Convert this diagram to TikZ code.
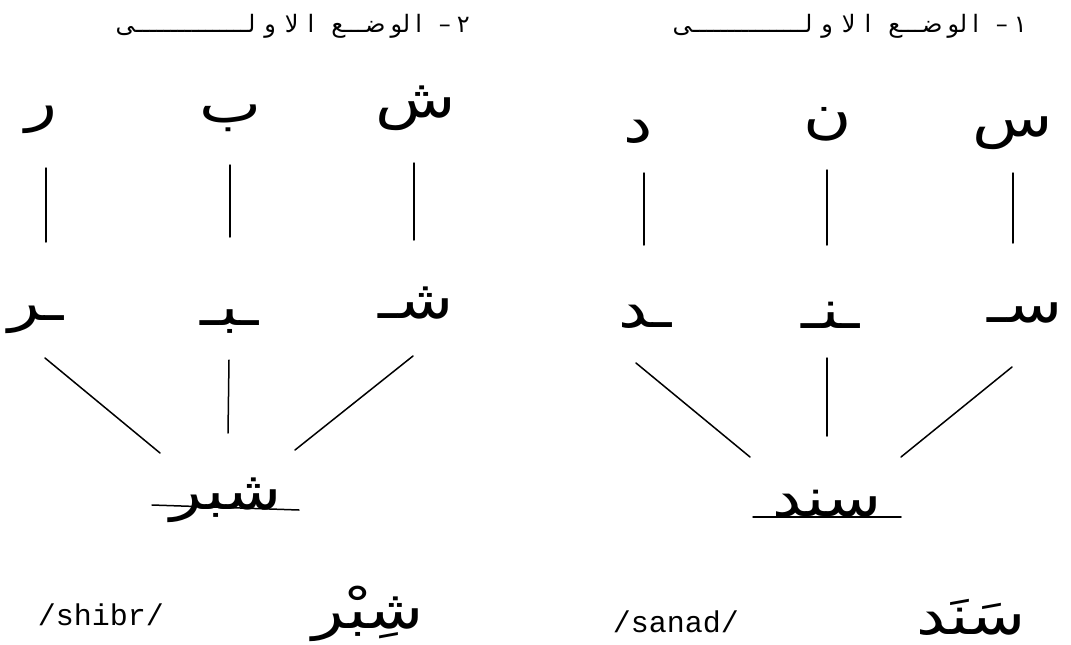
\documentclass[tikz,border=0pt]{standalone}
\usepackage{fontspec}
\newfontfamily\arabicfont[Script=Arabic]{DejaVu Sans}
\newfontfamily\monofont{Liberation Mono}
\TeXXeTstate=1
\usetikzlibrary{calc}
\newcommand{\headtext}[1]{\beginR #1\hspace{6pt}–\hspace{17pt}ا\hspace{5pt}لو\hspace{5pt}ضـــع\hspace{17pt}ا\hspace{9pt}لا\hspace{9pt}و\hspace{9pt}لــــــــــــــــى\endR}
\newcommand{\wideAr}[1]{\scalebox{1.22}[1]{\beginR #1\endR}}
\begin{document}
\begin{tikzpicture}[x=1pt,y=-1pt,
  head/.style={font=\arabicfont\fontsize{24}{28}\selectfont, inner sep=0pt},
  letter/.style={font=\arabicfont\fontsize{54}{64}\selectfont, inner sep=0pt},
  word/.style={font=\arabicfont\fontsize{54}{64}\selectfont, inner sep=0pt},
  translit/.style={font=\monofont\fontsize{30}{36}\selectfont, inner sep=0pt},
  link/.style={line width=1.5pt, line cap=round}]
\fill[white] (0,0) rectangle (1071,645);
\useasboundingbox (0,0) rectangle (1071,645);

% headers
\node[head, anchor=east] (h1) at (1027,26) {\headtext{١}};
\node[head, anchor=east] (h2) at (470,26) {\headtext{٢}};

% top isolated letters
\node[letter] (rT)  at (41,120)  {\wideAr{ر}};
\node[letter] (bT)  at (231,118) {\wideAr{ب}};
\node[letter] (shT) at (416,108) {\wideAr{ش}};
\node[letter] (dT)  at (638,132) {\wideAr{د}};
\node[letter] (nT)  at (828,124) {\wideAr{ن}};
\node[letter] (sT)  at (1013,133) {\wideAr{س}};

% contextual forms
\node[letter] (rM)  at (36,320)  {\wideAr{ـر}};
\node[letter] (bM)  at (230,322) {\wideAr{ـبـ}};
\node[letter] (shM) at (416,303) {\wideAr{شـ}};
\node[letter] (dM)  at (645,317) {\wideAr{ـد}};
\node[letter] (nM)  at (831,315) {\wideAr{ـنـ}};
\node[letter] (sM)  at (1025,313) {\wideAr{سـ}};

% combined words (sitting on their base lines)
\node[word, anchor=base] (shW) at (226,509) {\wideAr{شبر}};
\node[word, anchor=base] (sW)  at (827,516) {\wideAr{سند}};

% bottom
\node[word, anchor=base] (shB) at (368,628) {\wideAr{شِبْر}};
\node[translit] (shR) at (101,615) {/shibr/};
\node[word, anchor=base] (sB)  at (971,634) {\wideAr{سَنَد}};
\node[translit] (sR) at (676,622) {/sanad/};

% vertical connectors (left word)
\draw[link] ($(rT.center)+(5,48)$)   -- ($(rM.center)+(10,-78)$);
\draw[link] ($(bT.center)+(-1,47)$)  -- ($(bM.center)+(0,-85)$);
\draw[link] ($(shT.center)+(-2,55)$) -- ($(shM.center)+(-2,-63)$);
% vertical connectors (right word)
\draw[link] ($(dT.center)+(6,41)$)   -- ($(dM.center)+(-1,-72)$);
\draw[link] ($(nT.center)+(-1,46)$)  -- ($(nM.center)+(-4,-70)$);
\draw[link] ($(sT.center)+(0,40)$)   -- ($(sM.center)+(-12,-70)$);

% converging connectors (left word)
\draw[link] ($(rM.center)+(9,38)$)   -- ($(shW.base)+(-66,-56)$);
\draw[link] ($(bM.center)+(-1,38)$)  -- ($(shW.base)+(2,-76)$);
\draw[link] ($(shM.center)+(-3,53)$) -- ($(shW.base)+(69,-59)$);
% converging connectors (right word)
\draw[link] ($(dM.center)+(-9,46)$)  -- ($(sW.base)+(-77,-59)$);
\draw[link] ($(nM.center)+(-4,43)$)  -- ($(sW.base)+(0,-80)$);
\draw[link] ($(sM.center)+(-13,54)$) -- ($(sW.base)+(74,-59)$);

% base lines under the joined words
\draw[link] ($(shW.base)+(-74,-4)$) -- ($(shW.base)+(73,1)$);
\draw[link] ($(sW.base)+(-74,1)$) -- ($(sW.base)+(74,1)$);
\end{tikzpicture}
\end{document}
